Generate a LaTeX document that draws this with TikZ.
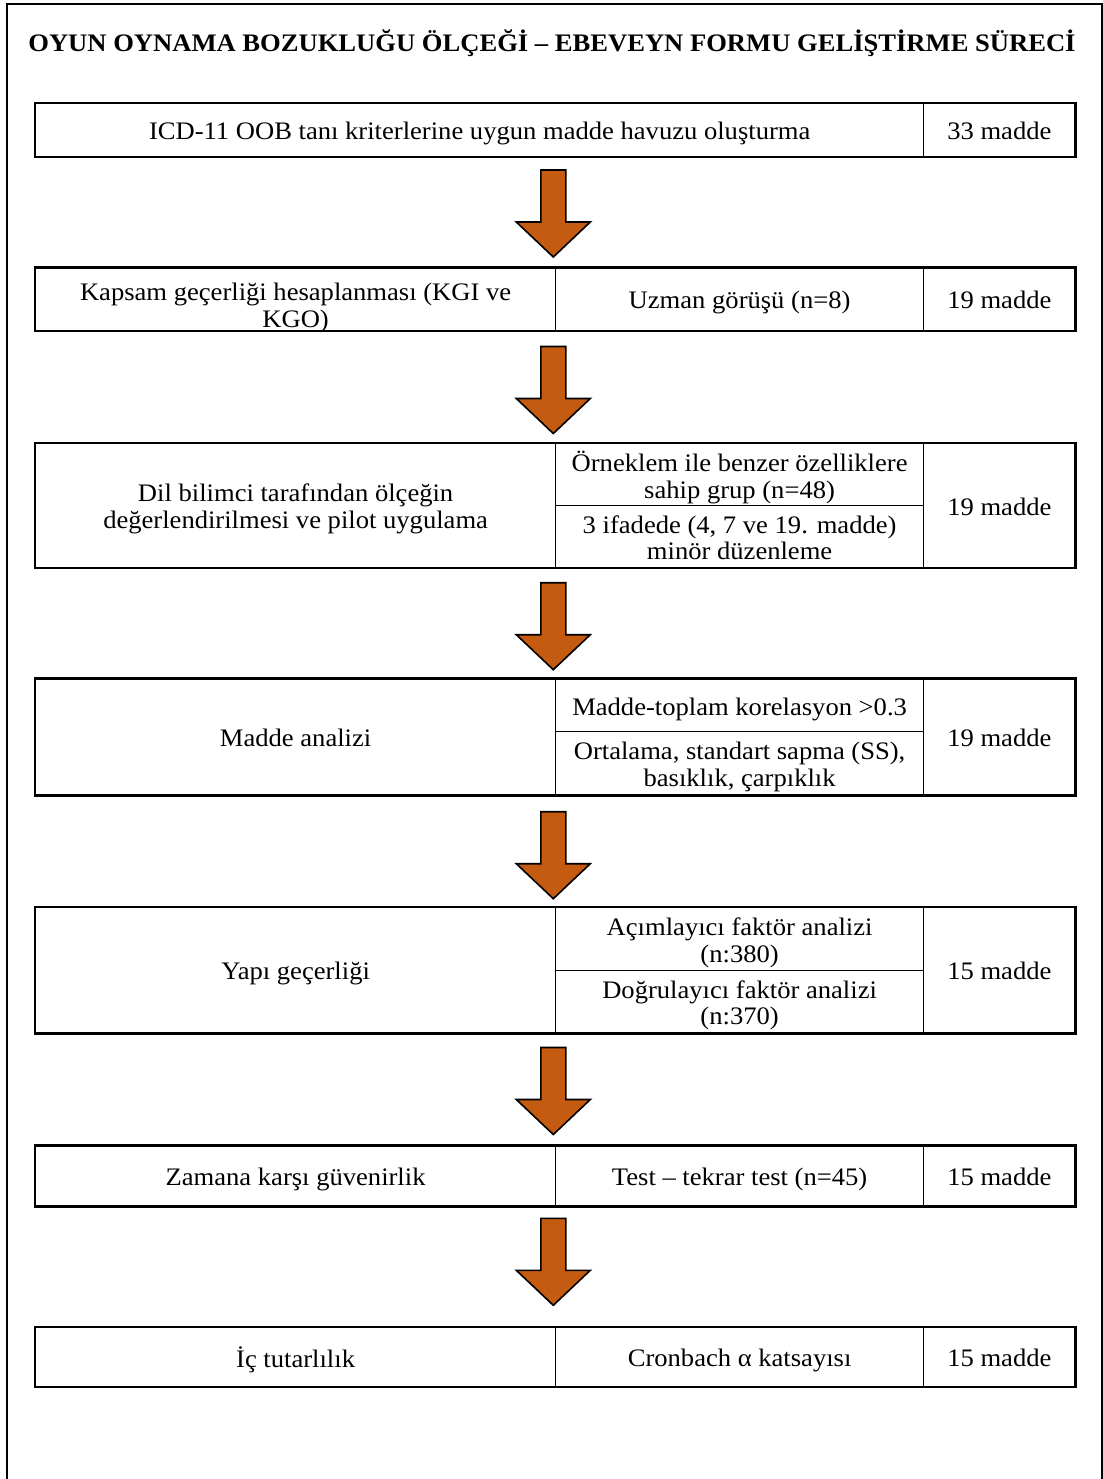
\documentclass[tikz,border=0pt]{standalone}
\usepackage{fontspec}
\setmainfont{Liberation Serif}[FakeStretch=1.055]
\usetikzlibrary{calc}
\definecolor{arrowfill}{HTML}{C55A11}
\newcommand\cellfont{\fontsize{12.6}{13.3}\selectfont}
\newcommand\lnst{\strut}
\tikzset{
  cell/.style={draw, line width=0.65pt, inner sep=0pt},
  celltext/.style={font=\cellfont, align=center, inner sep=0pt},
  rowframe/.style={draw, line width=1.1pt},
  pageframe/.style={draw, line width=0.85pt},
  blockarrow/.style={draw=black, line width=0.8pt, fill=arrowfill, line join=miter},
  titletext/.style={font=\fontsize{12.6}{13.6}\selectfont\bfseries, inner sep=0pt},
}
\newcommand\mkcell[7][]{%
  \node[cell, minimum width={(#5-#3)*0.5pt}, minimum height={(#6-#4)*0.5pt}]
    (#2) at ({(#3+#5)/2},{(#4+#6)/2}) {};
  \node[celltext, yshift=-2.2pt, #1] (#2-t) at (#2.center) {#7};}
\newcommand\flowarrow[2]{%
  \coordinate (#1) at (553.3,#2);
  \draw[blockarrow, shift={(#1)}] (-12.5,0) -- (12.5,0) -- (12.5,52) -- (37,52)
    -- (0,87) -- (-37,52) -- (-12.5,52) -- cycle;}
\begin{document}
\begin{tikzpicture}[x=0.5pt,y=-0.5pt]
\useasboundingbox (0,0) rectangle (1103,1479);
\draw[pageframe] (6.7,1485) -- (6.7,4) -- (1102,4) -- (1102,1485);
\node[titletext] (title) at (552,43) {OYUN OYNAMA BOZUKLUĞU ÖLÇEĞİ – EBEVEYN FORMU GELİŞTİRME SÜRECİ};

% Row 1
\mkcell{r1a}{35.7}{103.5}{923.7}{156.5}{\lnst ICD-11 OOB tanı kriterlerine uygun madde havuzu oluşturma}
\mkcell{r1b}{923.7}{103.5}{1075}{156.5}{\lnst 33 madde}
\draw[rowframe] (r1a.north west) rectangle (r1b.south east);
\flowarrow{a1}{170}

% Row 2
\mkcell[yshift=-2.6pt]{r2a}{35.7}{268}{555.5}{330.5}{\lnst Kapsam geçerliği hesaplanması (KGI ve\\\lnst KGO)}
\mkcell{r2b}{555.5}{268}{923.7}{330.5}{\lnst Uzman görüşü (n=8)}
\mkcell{r2c}{923.7}{268}{1075}{330.5}{\lnst 19 madde}
\draw[rowframe] (r2a.north west) rectangle (r2c.south east);
\flowarrow{a2}{346.5}

% Row 3
\mkcell{r3a}{35.7}{443.3}{555.5}{567.7}{\lnst Dil bilimci tarafından ölçeğin\\\lnst değerlendirilmesi ve pilot uygulama}
\mkcell{r3b}{555.5}{443.3}{923.7}{505.7}{\lnst Örneklem ile benzer özelliklere\\\lnst sahip grup (n=48)}
\mkcell{r3c}{555.5}{505.7}{923.7}{567.7}{\lnst 3 ifadede (4, 7 ve 19. madde)\\\lnst minör düzenleme}
\mkcell{r3d}{923.7}{443.3}{1075}{567.7}{\lnst 19 madde}
\draw[rowframe] (r3a.north west) rectangle (r3d.south east);
\flowarrow{a3}{582.7}

% Row 4
\mkcell{r4a}{35.7}{679}{555.5}{795}{\lnst Madde analizi}
\mkcell{r4b}{555.5}{679}{923.7}{731.7}{\lnst Madde-toplam korelasyon >0.3}
\mkcell{r4c}{555.5}{731.7}{923.7}{795}{\lnst Ortalama, standart sapma (SS),\\\lnst basıklık, çarpıklık}
\mkcell{r4d}{923.7}{679}{1075}{795}{\lnst 19 madde}
\draw[rowframe] (r4a.north west) rectangle (r4d.south east);
\flowarrow{a4}{811.7}

% Row 5
\mkcell{r5a}{35.7}{907.3}{555.5}{1033}{\lnst Yapı geçerliği}
\mkcell{r5b}{555.5}{907.3}{923.7}{970.7}{\lnst Açımlayıcı faktör analizi\\\lnst (n:380)}
\mkcell{r5c}{555.5}{970.7}{923.7}{1033}{\lnst Doğrulayıcı faktör analizi\\\lnst (n:370)}
\mkcell{r5d}{923.7}{907.3}{1075}{1033}{\lnst 15 madde}
\draw[rowframe] (r5a.north west) rectangle (r5d.south east);
\flowarrow{a5}{1047.5}

% Row 6
\mkcell{r6a}{35.7}{1146}{555.5}{1206}{\lnst Zamana karşı güvenirlik}
\mkcell{r6b}{555.5}{1146}{923.7}{1206}{\lnst Test – tekrar test (n=45)}
\mkcell{r6c}{923.7}{1146}{1075}{1206}{\lnst 15 madde}
\draw[rowframe] (r6a.north west) rectangle (r6c.south east);
\flowarrow{a6}{1218.3}

% Row 7
\mkcell{r7a}{35.7}{1327.3}{555.5}{1386.7}{\lnst İç tutarlılık}
\mkcell{r7b}{555.5}{1327.3}{923.7}{1386.7}{\lnst Cronbach α katsayısı}
\mkcell{r7c}{923.7}{1327.3}{1075}{1386.7}{\lnst 15 madde}
\draw[rowframe] (r7a.north west) rectangle (r7c.south east);
\end{tikzpicture}
\end{document}
